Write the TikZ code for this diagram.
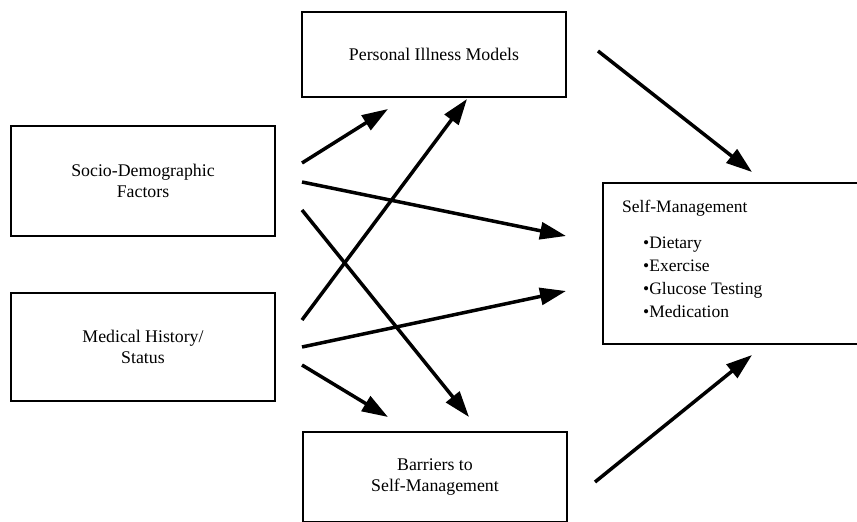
\documentclass[tikz,border=0pt]{standalone}
\usepackage{fontspec}
\setmainfont{Liberation Serif}
\usetikzlibrary{arrows.meta}
\begin{document}
\begin{tikzpicture}[x=1pt,y=-1pt,
  box/.style={draw=black, line width=2.7pt, inner sep=0pt, align=center,
    font=\fontsize{17.8}{21}\selectfont},
  txt/.style={inner sep=0pt, font=\fontsize{17.5}{21}\selectfont},
  arr/.style={line width=3.5pt, -{Triangle[length=26pt,width=17pt]}}]
\useasboundingbox (0,0) rectangle (857,522);
\clip (0,0) rectangle (857,522);
% boxes
\node[box, minimum width=264pt, minimum height=110pt] (socio) at (143,181) {Socio-Demographic\\Factors};
\node[box, minimum width=264pt, minimum height=108pt] (medical) at (143,347) {Medical History/\\Status};
\node[box, minimum width=264pt, minimum height=85pt] (personal) at (434,54.5) {Personal Illness Models};
\node[box, minimum width=264pt, minimum height=90pt] (barriers) at (435,477) {Barriers to\\Self-Management};
\node[box, minimum width=277pt, minimum height=161pt] (selfman) at (741.5,263.5) {};
\node[txt, anchor=west] (smtitle) at (622,208) {Self-Management};
\node[txt, anchor=north west, align=left, font=\fontsize{17.5}{23}\selectfont] (smlist) at (643,237)
  {•Dietary\\•Exercise\\•Glucose Testing\\•Medication};
% arrow end points
\coordinate (s1) at (302,163); \coordinate (t1) at (388,109);
\coordinate (s2) at (302,182); \coordinate (t2) at (566,236);
\coordinate (s3) at (302,210); \coordinate (t3) at (469,417);
\coordinate (s4) at (302,320); \coordinate (t4) at (467,99);
\coordinate (s5) at (302,347); \coordinate (t5) at (566,291);
\coordinate (s6) at (302,365); \coordinate (t6) at (388,417);
\coordinate (s7) at (598,51);  \coordinate (t7) at (752,172);
\coordinate (s8) at (595,482); \coordinate (t8) at (752,355);
\foreach \i in {1,...,8} { \draw[arr] (s\i) -- (t\i); }
\end{tikzpicture}
\end{document}
